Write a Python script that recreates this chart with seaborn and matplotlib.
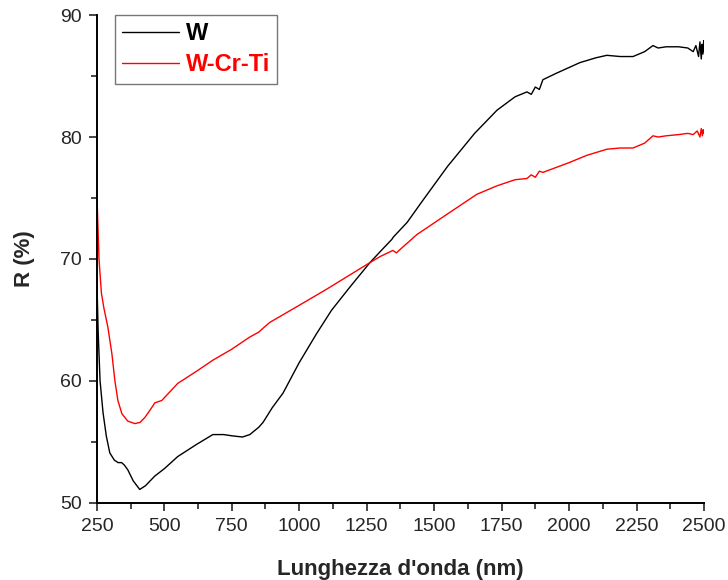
import matplotlib.pyplot as plt
import seaborn as sns
import pandas as pd
from matplotlib.ticker import MultipleLocator

# wavelength (nm) / reflectance (%)
w_x = [250, 255, 262, 273, 285, 298, 315, 329, 342, 352, 365, 385, 409, 430, 465, 500, 550,
       620, 680, 720, 750, 790, 817, 850, 866, 900, 940, 1000, 1065, 1120, 1188, 1262, 1300,
       1343, 1349, 1400, 1458, 1550, 1650, 1733, 1800, 1844, 1860, 1875, 1890, 1903, 1950,
       2040, 2100, 2140, 2190, 2237, 2280, 2311, 2330, 2360, 2406, 2440, 2460, 2470, 2480,
       2485, 2490, 2493, 2496, 2499, 2500]
w_y = [68.5, 64.0, 60.0, 57.4, 55.5, 54.1, 53.5, 53.3, 53.3, 53.1, 52.7, 51.8, 51.1, 51.4, 52.2,
       52.8, 53.8, 54.8, 55.6, 55.6, 55.5, 55.4, 55.6, 56.2, 56.6, 57.8, 59.0, 61.5, 63.9, 65.8,
       67.7, 69.7, 70.6, 71.6, 71.8, 73.0, 74.8, 77.6, 80.3, 82.2, 83.3, 83.7, 83.5, 84.1, 83.9,
       84.7, 85.2, 86.1, 86.5, 86.7, 86.6, 86.6, 87.0, 87.5, 87.3, 87.4, 87.4, 87.3, 87.0, 87.5,
       86.6, 87.8, 86.4, 87.6, 86.8, 87.9, 87.0]

wcrti_x = [250, 252, 258, 267, 276, 291, 306, 317, 328, 343, 365, 391, 410, 428, 450, 465, 491,
           550, 620, 680, 750, 817, 850, 870, 891, 1000, 1100, 1262, 1300, 1347, 1360, 1375,
           1436, 1550, 1658, 1733, 1800, 1844, 1860, 1875, 1890, 1903, 2000, 2066, 2140, 2190,
           2237, 2280, 2311, 2330, 2360, 2406, 2440, 2460, 2475, 2485, 2490, 2494, 2497, 2500]
wcrti_y = [75.0, 74.2, 70.0, 67.2, 66.0, 64.4, 62.2, 60.0, 58.4, 57.3, 56.7, 56.5, 56.6, 57.0,
           57.7, 58.2, 58.4, 59.8, 60.8, 61.7, 62.6, 63.6, 64.0, 64.4, 64.8, 66.2, 67.5, 69.7,
           70.2, 70.7, 70.5, 70.8, 72.0, 73.7, 75.3, 76.0, 76.5, 76.6, 76.9, 76.7, 77.2, 77.1,
           77.9, 78.5, 79.0, 79.1, 79.1, 79.5, 80.1, 80.0, 80.1, 80.2, 80.3, 80.2, 80.5, 80.0,
           80.7, 80.1, 80.6, 80.3]

df = pd.concat([
    pd.DataFrame({"wl": w_x, "R": w_y, "sample": "W"}),
    pd.DataFrame({"wl": wcrti_x, "R": wcrti_y, "sample": "W-Cr-Ti"}),
])

sns.set_style("ticks")
plt.rcParams["font.family"] = ["Liberation Sans", "DejaVu Sans"]

fig = plt.figure(figsize=(7.28, 5.80), dpi=100)
ax = fig.add_axes([0.133, 0.133, 0.834, 0.841])

sns.lineplot(data=df, x="wl", y="R", hue="sample",
             palette={"W": "black", "W-Cr-Ti": "red"},
             linewidth=1.0, ax=ax, sort=False)

ax.set_xlim(250, 2500)
ax.set_ylim(50, 90)
ax.xaxis.set_major_locator(MultipleLocator(250))
ax.xaxis.set_minor_locator(MultipleLocator(125))
ax.yaxis.set_major_locator(MultipleLocator(10))
ax.yaxis.set_minor_locator(MultipleLocator(5))
ax.tick_params(which="major", length=6, width=1.2, labelsize=14, direction="out", pad=5)
ax.tick_params(which="minor", length=4, width=1.2, direction="out")
for s in ["top", "right"]:
    ax.spines[s].set_visible(False)
for s in ["left", "bottom"]:
    ax.spines[s].set_linewidth(1.4)
    ax.spines[s].set_color("black")

ax.set_xlabel("Lunghezza d'onda (nm)", fontsize=16, fontweight="bold", labelpad=17)
ax.set_ylabel("R (%)", fontsize=16, fontweight="bold", labelpad=18)

leg = ax.legend(loc="upper left", bbox_to_anchor=(0.03, 1.0), borderaxespad=0,
                frameon=True, fancybox=False,
                handlelength=2.4, borderpad=0.3, labelspacing=0.35, handletextpad=0.3,
                prop={"weight": "bold", "size": 17})
leg.get_frame().set_edgecolor("#555555")
leg.get_frame().set_linewidth(1.0)
for txt, line in zip(leg.get_texts(), leg.get_lines()):
    txt.set_color(line.get_color())

fig.savefig("out.png", dpi=100)
